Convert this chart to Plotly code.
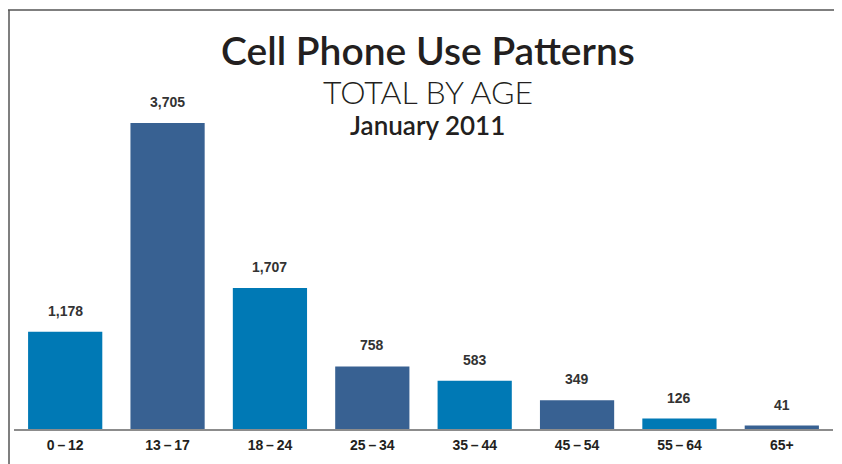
import plotly.graph_objects as go

categories = ["0\u2009–\u200912", "13\u2009–\u200917", "18\u2009–\u200924", "25\u2009–\u200934",
              "35\u2009–\u200944", "45\u2009–\u200954", "55\u2009–\u200964", "65+"]
values = [1178, 3705, 1707, 758, 583, 349, 126, 41]
bar_colors = ["#0079b5", "#386192", "#0079b5", "#386192", "#0079b5", "#386192", "#0079b5", "#386192"]

title = "Cell Phone Use Patterns"
subtitle = "TOTAL BY AGE"
date_label = "January 2011"

# page body has an 8px margin; map reference-pixel coords to figure coords
OFF = 8
W, H = 842 - OFF, 464 - OFF
ML, MR, MT, MB = 14 - OFF, 9, 10 - OFF, 35
pw = W - ML - MR
ph = H - MT - MB

def px(x):
    return (x - OFF - ML) / pw

def py(y):
    return 1 - (y - OFF - MT) / ph

fig = go.Figure()
fig.add_trace(go.Bar(
    x=categories, y=values,
    marker=dict(color=bar_colors, line=dict(width=0)),
    hoverinfo="x+y",
))

annotations = []
for c, v in zip(categories, values):
    annotations.append(dict(
        x=c, y=v, xref="x", yref="y", text=f"<b>{v:,}</b>",
        showarrow=False, yanchor="bottom", yshift=11,
        font=dict(family="Liberation Sans, Arial", size=14, color="#333333"),
    ))

annotations += [
    dict(x=px(428), y=py(50), xref="paper", yref="paper", text=title, showarrow=False,
         xanchor="center", yanchor="middle",
         font=dict(family="Lato", size=39, color="#231f20", weight=600)),
    dict(x=px(428), y=py(91), xref="paper", yref="paper", text=subtitle, showarrow=False,
         xanchor="center", yanchor="middle",
         font=dict(family="Lato", size=32, color="#231f20", weight=300)),
    dict(x=px(427), y=py(125), xref="paper", yref="paper", text=date_label, showarrow=False,
         xanchor="center", yanchor="middle",
         font=dict(family="Lato", size=26, color="#231f20", weight=600)),
]

shapes = [
    dict(type="line", xref="paper", yref="paper", x0=px(7), x1=px(842), y0=py(10), y1=py(10),
         line=dict(color="#555555", width=1.5)),
    dict(type="line", xref="paper", yref="paper", x0=px(9), x1=px(9), y0=py(10), y1=py(464),
         line=dict(color="#555555", width=1.5)),
]

fig.update_layout(
    width=W, height=H,
    margin=dict(l=ML, r=MR, t=MT, b=MB),
    paper_bgcolor="white", plot_bgcolor="white",
    bargap=0.275,
    showlegend=False,
    annotations=annotations,
    shapes=shapes,
    xaxis=dict(
        showline=True, linecolor="#8c8c8c", linewidth=1.5,
        ticks="", showgrid=False, zeroline=False,
        tickfont=dict(family="Liberation Sans, Arial", size=14, color="#231f20", weight="bold"),
        ticklabelstandoff=2,
    ),
    yaxis=dict(range=[0, 5073], visible=False, showgrid=False, zeroline=False),
)

fig.write_html("out.html")
